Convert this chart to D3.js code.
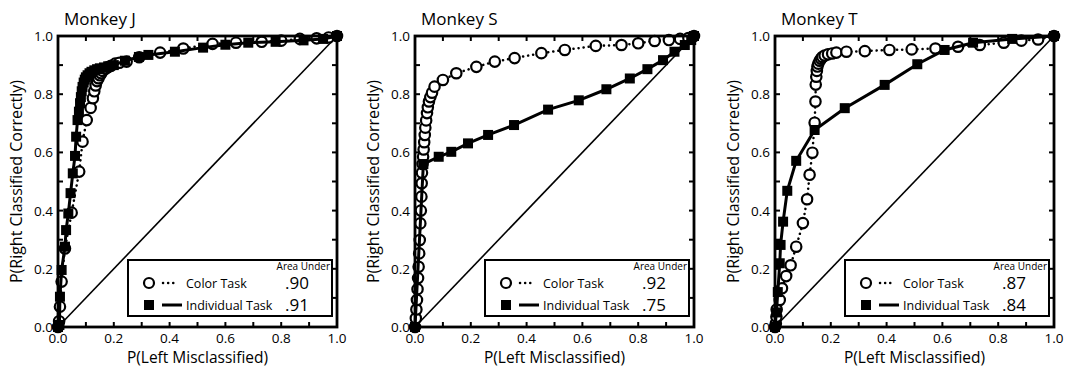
<!DOCTYPE html>
<html><head><meta charset="utf-8">
<script src="https://cdn.jsdelivr.net/npm/d3@7"></script>
<style>body{margin:0;background:#fff}svg{display:block}text{font-family:"Open Sans",sans-serif;fill:#000}</style>
</head><body><svg id="c" width="1068" height="374"></svg>
<script>
const monkeys = ["Monkey J", "Monkey S", "Monkey T"];
const seriesNames = ["Color Task", "Individual Task"];
const areaColor = [".90", ".92", ".87"];
const areaIndiv = [".91", ".75", ".84"];
const tickLabels = ["0.0","0.2","0.4","0.6","0.8","1.0"];

// Monkey J
const jColorX = [0, 0.004, 0.007, 0.013, 0.025, 0.049, 0.076, 0.088, 0.103, 0.117, 0.125, 0.13, 0.135, 0.14, 0.145, 0.15, 0.155, 0.16, 0.17, 0.18, 0.19, 0.205, 0.22, 0.246, 0.291, 0.366, 0.449, 0.554, 0.638, 0.73, 0.80, 0.867, 0.927, 0.97, 1.0];
const jColorY = [0, 0.02, 0.07, 0.156, 0.27, 0.393, 0.534, 0.637, 0.711, 0.753, 0.786, 0.81, 0.83, 0.845, 0.855, 0.865, 0.872, 0.88, 0.887, 0.893, 0.898, 0.905, 0.908, 0.912, 0.927, 0.943, 0.957, 0.973, 0.977, 0.98, 0.984, 0.99, 0.992, 0.995, 1.0];
const jIndivX = [0, 0.005, 0.007, 0.013, 0.025, 0.029, 0.037, 0.045, 0.053, 0.061, 0.065, 0.07, 0.075, 0.079, 0.082, 0.085, 0.088, 0.092, 0.096, 0.1, 0.106, 0.113, 0.12, 0.13, 0.14, 0.15, 0.165, 0.18, 0.2, 0.24, 0.29, 0.324, 0.419, 0.52, 0.6, 0.682, 0.78, 0.88, 0.95, 1.0];
const jIndivY = [0, 0.007, 0.104, 0.196, 0.276, 0.333, 0.39, 0.46, 0.528, 0.588, 0.654, 0.711, 0.74, 0.769, 0.79, 0.81, 0.825, 0.84, 0.85, 0.858, 0.865, 0.872, 0.877, 0.882, 0.886, 0.889, 0.892, 0.896, 0.9, 0.915, 0.928, 0.935, 0.946, 0.96, 0.97, 0.977, 0.98, 0.985, 0.99, 1.0];

// Monkey S
const sColorX = [0, 0.003, 0.005, 0.007, 0.009, 0.011, 0.013, 0.015, 0.017, 0.019, 0.021, 0.023, 0.024, 0.025, 0.027, 0.029, 0.031, 0.033, 0.035, 0.037, 0.04, 0.043, 0.046, 0.05, 0.055, 0.061, 0.07, 0.1, 0.148, 0.22, 0.286, 0.357, 0.453, 0.537, 0.648, 0.74, 0.8, 0.859, 0.91, 0.95, 0.98, 1.0];
const sColorY = [0, 0.03, 0.06, 0.093, 0.13, 0.168, 0.207, 0.253, 0.299, 0.356, 0.4, 0.448, 0.494, 0.53, 0.56, 0.585, 0.61, 0.635, 0.66, 0.685, 0.71, 0.735, 0.755, 0.775, 0.79, 0.805, 0.826, 0.849, 0.872, 0.894, 0.912, 0.924, 0.941, 0.952, 0.966, 0.969, 0.975, 0.983, 0.986, 0.99, 0.993, 1.0];
const sIndivX = [0, 0.03, 0.085, 0.13, 0.19, 0.262, 0.355, 0.477, 0.587, 0.686, 0.77, 0.833, 0.889, 0.93, 0.967, 0.99, 1.0];
const sIndivY = [0, 0.56, 0.585, 0.602, 0.631, 0.66, 0.694, 0.747, 0.779, 0.817, 0.854, 0.886, 0.917, 0.946, 0.969, 0.986, 1.0];

// Monkey T
const tColorX = [0, 0.003, 0.005, 0.006, 0.017, 0.025, 0.04, 0.056, 0.076, 0.1, 0.115, 0.124, 0.134, 0.142, 0.145, 0.146, 0.148, 0.15, 0.152, 0.155, 0.16, 0.165, 0.17, 0.178, 0.19, 0.205, 0.22, 0.256, 0.322, 0.41, 0.49, 0.575, 0.656, 0.734, 0.82, 0.883, 0.943, 1.0];
const tColorY = [0, 0.012, 0.035, 0.06, 0.093, 0.133, 0.175, 0.212, 0.276, 0.357, 0.439, 0.523, 0.599, 0.702, 0.775, 0.833, 0.86, 0.88, 0.895, 0.905, 0.915, 0.922, 0.928, 0.933, 0.937, 0.94, 0.943, 0.946, 0.948, 0.952, 0.954, 0.957, 0.963, 0.969, 0.977, 0.984, 0.988, 1.0];
const tIndivX = [0, 0.005, 0.01, 0.017, 0.02, 0.029, 0.044, 0.076, 0.142, 0.25, 0.393, 0.51, 0.608, 0.71, 0.85, 1.0];
const tIndivY = [0, 0.05, 0.12, 0.219, 0.282, 0.362, 0.468, 0.571, 0.677, 0.752, 0.832, 0.903, 0.952, 0.977, 0.99, 1.0];

const colorXs = [jColorX, sColorX, tColorX], colorYs = [jColorY, sColorY, tColorY];
const indivXs = [jIndivX, sIndivX, tIndivX], indivYs = [jIndivY, sIndivY, tIndivY];

const svg = d3.select("#c");
const lefts = [58, 415, 775], plotTop = 36, W = 279, H = 291;

monkeys.forEach((name, i) => {
  const g = svg.append("g").attr("transform", `translate(${lefts[i]},${plotTop})`);
  const x = d3.scaleLinear().domain([0,1]).range([0,W]);
  const y = d3.scaleLinear().domain([0,1]).range([H,0]);
  const ticks = d3.range(0, 1.0001, 0.1);

  // diagonal
  g.append("line").attr("x1",x(0)).attr("y1",y(0)).attr("x2",x(1)).attr("y2",y(1)).attr("stroke","#000").attr("stroke-width",1.6);

  // ticks inward
  ticks.forEach(t => {
    g.append("line").attr("x1",x(t)).attr("x2",x(t)).attr("y1",H).attr("y2",H-5).attr("stroke","#000").attr("stroke-width",2);
    g.append("line").attr("x1",x(t)).attr("x2",x(t)).attr("y1",0).attr("y2",5).attr("stroke","#000").attr("stroke-width",2);
    g.append("line").attr("y1",y(t)).attr("y2",y(t)).attr("x1",0).attr("x2",5).attr("stroke","#000").attr("stroke-width",2);
    g.append("line").attr("y1",y(t)).attr("y2",y(t)).attr("x1",W).attr("x2",W-5).attr("stroke","#000").attr("stroke-width",2);
  });
  // tick labels
  tickLabels.forEach(l => {
    const v = +l;
    g.append("text").attr("x",x(v)).attr("y",H+16).attr("text-anchor","middle").attr("font-size",13.5).text(l);
    g.append("text").attr("x",-5).attr("y",y(v)+5).attr("text-anchor","end").attr("font-size",13.5).text(l);
  });

  const cd = colorXs[i].map((v,k)=>[v, colorYs[i][k]]);
  const id = indivXs[i].map((v,k)=>[v, indivYs[i][k]]);
  const line = d3.line().x(d=>x(d[0])).y(d=>y(d[1]));
  // color task
  g.append("path").attr("d", line(cd)).attr("fill","none").attr("stroke","#000").attr("stroke-width",2.5)
    .attr("stroke-dasharray","0.1,5").attr("stroke-linecap","round");
  g.append("g").selectAll("circle").data(cd).join("circle")
    .attr("cx",d=>x(d[0])).attr("cy",d=>y(d[1])).attr("r",5.2)
    .attr("fill","#fff").attr("stroke","#000").attr("stroke-width",2.2);
  // individual task
  g.append("path").attr("d", line(id)).attr("fill","none").attr("stroke","#000").attr("stroke-width",3);
  g.append("g").selectAll("rect").data(id).join("rect")
    .attr("x",d=>x(d[0])-5).attr("y",d=>y(d[1])-5).attr("width",10).attr("height",10).attr("fill","#000");

  // frame
  g.append("rect").attr("x",0).attr("y",0).attr("width",W).attr("height",H).attr("fill","none").attr("stroke","#000").attr("stroke-width",2.8);

  // title
  g.append("text").attr("x",6).attr("y",-11).attr("font-size",17).text(name);

  // axis labels
  g.append("text").attr("x",W/2).attr("y",H+36).attr("text-anchor","middle").attr("font-size",15.5).text("P(Left Misclassified)");
  g.append("text").attr("transform",`translate(-36,${H/2}) rotate(-90)`).attr("text-anchor","middle").attr("font-size",16).text("P(Right Classified Correctly)");

  // legend
  const lg = g.append("g").attr("transform",`translate(70,224)`);
  const LW = 204, LH = 56;
  lg.append("rect").attr("width",LW).attr("height",LH).attr("fill","#fff").attr("stroke","#000").attr("stroke-width",2);
  lg.append("text").attr("x",LW-2).attr("y",10).attr("text-anchor","end").attr("font-size",10).text("Area Under");
  lg.append("circle").attr("cx",21).attr("cy",23).attr("r",5).attr("fill","#fff").attr("stroke","#000").attr("stroke-width",2.2);
  lg.append("line").attr("x1",35).attr("x2",50).attr("y1",23).attr("y2",23).attr("stroke","#000").attr("stroke-width",2.5)
    .attr("stroke-dasharray","0.1,5").attr("stroke-linecap","round");
  lg.append("text").attr("x",58).attr("y",27.5).attr("font-size",12.5).text(seriesNames[0]);
  lg.append("text").attr("x",157).attr("y",29).attr("font-size",17).text(areaColor[i]);
  lg.append("rect").attr("x",16).attr("y",40).attr("width",10).attr("height",10).attr("fill","#000");
  lg.append("line").attr("x1",34).attr("x2",54).attr("y1",45).attr("y2",45).attr("stroke","#000").attr("stroke-width",3);
  lg.append("text").attr("x",58).attr("y",49.5).attr("font-size",12.5).text(seriesNames[1]);
  lg.append("text").attr("x",157).attr("y",51).attr("font-size",17).text(areaIndiv[i]);
});
</script></body></html>
